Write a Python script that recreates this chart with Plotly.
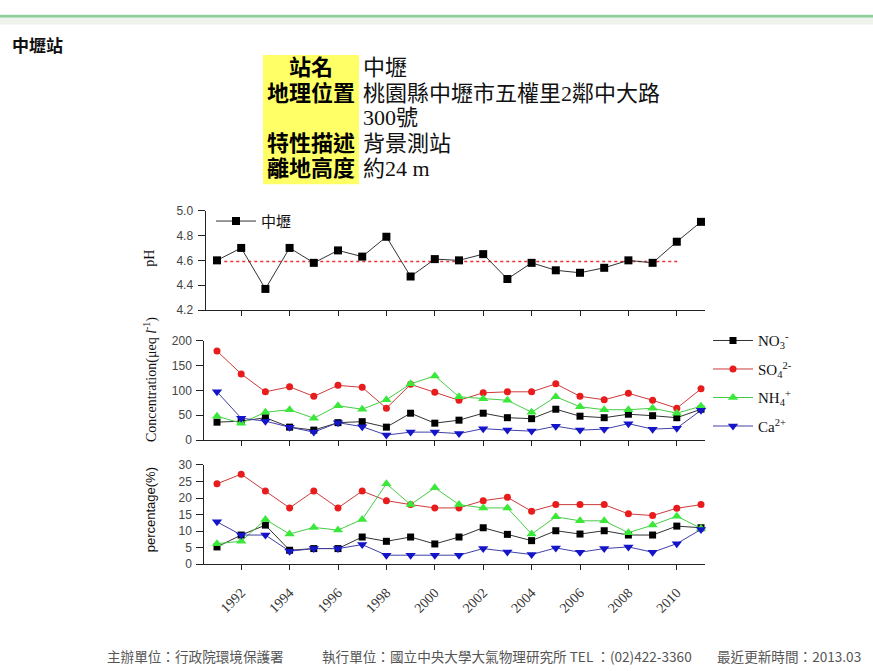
import plotly.graph_objects as go

# ---------------- data ----------------
years = list(range(1991, 2012))
ph = [4.60, 4.70, 4.37, 4.70, 4.58, 4.68, 4.63, 4.79, 4.47, 4.61, 4.60,
      4.65, 4.45, 4.58, 4.52, 4.50, 4.54, 4.60, 4.58, 4.75, 4.91]
ph_mean_years = [1991.3, 2010.1]
ph_mean_vals = [4.59, 4.59]

conc_no3 = [36, 38, 45, 26, 20, 35, 37, 26, 54, 34, 40, 54, 45, 43, 62, 48, 45, 52, 49, 45, 62]
conc_so4 = [179, 133, 97, 107, 88, 110, 106, 64, 112, 96, 80, 95, 97, 97, 113, 88, 81, 94, 80, 64, 103]
conc_nh4 = [48, 34, 56, 61, 44, 69, 62, 81, 113, 129, 87, 83, 80, 56, 87, 67, 61, 61, 64, 54, 68]
conc_ca = [97, 44, 38, 26, 16, 35, 27, 10, 16, 16, 13, 23, 20, 18, 28, 20, 22, 33, 22, 24, 60]

pct_no3 = [5.2, 8.8, 11.8, 4.2, 4.7, 4.7, 8.2, 6.9, 8.2, 6.1, 8.2, 11.0, 9.0, 7.1, 10.1, 9.1, 10.1, 8.8, 8.8, 11.5, 11.0]
pct_so4 = [24.3, 27.2, 22.1, 17.0, 22.1, 17.0, 22.1, 19.2, 18.0, 17.0, 17.0, 19.2, 20.2, 16.0, 18.0, 18.0, 18.0, 15.2, 14.7, 16.9, 18.0]
pct_nh4 = [6.2, 6.9, 13.5, 9.1, 11.1, 10.3, 13.5, 24.3, 18.0, 23.1, 18.0, 17.0, 17.0, 9.1, 14.3, 13.1, 13.1, 9.5, 11.8, 14.5, 10.8]
pct_ca = [12.8, 8.8, 8.8, 3.9, 4.7, 4.7, 5.9, 2.7, 2.7, 2.7, 2.7, 4.7, 3.7, 2.9, 4.9, 3.6, 4.7, 5.2, 3.6, 6.2, 10.5]

tick_years = [1992, 1994, 1996, 1998, 2000, 2002, 2004, 2006, 2008, 2010]
tick_text = [str(y) for y in tick_years]

ion_names = ["NO<sub>3</sub><sup>-</sup>", "SO<sub>4</sub><sup>2-</sup>",
             "NH<sub>4</sub><sup>+</sup>", "Ca<sup>2+</sup>"]

station_title = "中壢站"
info_labels = ["站名", "地理位置", "", "特性描述", "離地高度"]
info_values = ["中壢", "桃園縣中壢市五權里2鄰中大路", "300號", "背景測站", "約24 m"]
footer = ["主辦單位：行政院環境保護署",
          "執行單位：國立中央大學大氣物理研究所 TEL ：(02)422-3360",
          "最近更新時間：2013.03"]

# ---------------- layout helpers ----------------
W, H = 873, 671


def px(x):
    return x / W


def py(y):
    return 1 - y / H


X0_PX, PX_PER_YEAR = 217.0, 24.2


def xrange_for(left, right):
    return [1991 + (left - X0_PX) / PX_PER_YEAR, 1991 + (right - X0_PX) / PX_PER_YEAR]


SERIF = "Liberation Serif, Noto Sans CJK TC"
SANS = "Liberation Sans, Arial"
CJK = "Noto Sans CJK TC"
AX = "#222222"

styles = [
    dict(color="#000000", line="#333333", symbol="square", size=7),
    dict(color="#e81c1c", line="#cc3a3a", symbol="circle", size=7),
    dict(color="#3ae83a", line="#44cc44", symbol="triangle-up", size=9),
    dict(color="#1414c8", line="#4040a8", symbol="triangle-down", size=9),
]

fig = go.Figure()

# pH panel
fig.add_trace(go.Scatter(x=ph_mean_years, y=ph_mean_vals, mode="lines",
                         line=dict(color="#ee3030", width=1.5, dash="dot"),
                         showlegend=False, xaxis="x", yaxis="y", hoverinfo="skip"))
fig.add_trace(go.Scatter(x=years, y=ph, mode="lines+markers", name="中壢",
                         line=dict(color="#333333", width=1),
                         marker=dict(symbol="square", size=8, color="#000000"),
                         cliponaxis=False, legend="legend", xaxis="x", yaxis="y"))

conc = [conc_no3, conc_so4, conc_nh4, conc_ca]
pct = [pct_no3, pct_so4, pct_nh4, pct_ca]
for i, (nm, st) in enumerate(zip(ion_names, styles)):
    fig.add_trace(go.Scatter(x=years, y=conc[i], mode="lines+markers", name=nm,
                             line=dict(color=st["line"], width=1),
                             marker=dict(symbol=st["symbol"], size=st["size"], color=st["color"]),
                             cliponaxis=False, legend="legend2", legendgroup="g%d" % i,
                             xaxis="x2", yaxis="y2"))
for i, (nm, st) in enumerate(zip(ion_names, styles)):
    fig.add_trace(go.Scatter(x=years, y=pct[i], mode="lines+markers", name=nm,
                             line=dict(color=st["line"], width=1),
                             marker=dict(symbol=st["symbol"], size=st["size"], color=st["color"]),
                             cliponaxis=False, showlegend=False, legend="legend2",
                             legendgroup="g%d" % i, xaxis="x3", yaxis="y3"))

common_x = dict(tickmode="array", tickvals=tick_years, ticktext=tick_text,
                ticks="outside", ticklen=5, tickcolor=AX, showline=True, linecolor=AX,
                linewidth=1, showgrid=False, zeroline=False, fixedrange=True)
common_y = dict(ticks="outside", ticklen=7, tickcolor=AX, showline=True, linecolor=AX,
                linewidth=1, showgrid=False, zeroline=False, ticklabelstandoff=2,
                tickfont=dict(family=SANS, size=12, color="#444444"))

AX_R = 705
fig.update_layout(
    width=W, height=H, margin=dict(l=0, r=0, t=0, b=0),
    paper_bgcolor="white", plot_bgcolor="rgba(0,0,0,0)",
    font=dict(family=SANS, size=12, color="#222222"),
    xaxis=dict(domain=[px(205.5), px(AX_R)], range=xrange_for(205.5, AX_R), anchor="y",
               showticklabels=False, **common_x),
    yaxis=dict(domain=[py(309.5), py(208)], range=[4.2, 5.0], tickvals=[4.2, 4.4, 4.6, 4.8, 5.0],
               tickformat=".1f", anchor="x", **common_y),
    xaxis2=dict(domain=[px(204.3), px(AX_R)], range=xrange_for(204.3, AX_R), anchor="y2",
                showticklabels=False, **common_x),
    yaxis2=dict(domain=[py(442.3), py(340.7)], range=[0, 200], dtick=50, anchor="x2", **common_y),
    xaxis3=dict(domain=[px(204.3), px(AX_R)], range=xrange_for(204.3, AX_R), anchor="y3",
                tickangle=-45, ticklabelstandoff=9,
                tickfont=dict(family="Liberation Serif", size=14, color="#333333"), **common_x),
    yaxis3=dict(domain=[py(569), py(467.7)], range=[0, 30], dtick=5, anchor="x3", **common_y),
    legend=dict(x=px(211), y=py(202), xanchor="left", yanchor="top", itemwidth=40,
                bgcolor="rgba(0,0,0,0)", font=dict(family=SERIF, size=15, color="#111111")),
    legend2=dict(x=px(708), y=py(324), xanchor="left", yanchor="top", tracegroupgap=6,
                 itemwidth=40,
                 bgcolor="rgba(0,0,0,0)", font=dict(family=SERIF, size=15, color="#111111")),
    showlegend=True,
)

shapes = [
    dict(type="rect", xref="paper", yref="paper", x0=0, x1=1, y0=py(11), y1=py(8),
         fillcolor="#8fcf9c", line=dict(width=0), layer="below"),
    dict(type="rect", xref="paper", yref="paper", x0=0, x1=1, y0=py(18), y1=py(11),
         fillcolor="#eef3ee", line=dict(width=0), layer="below"),
    dict(type="rect", xref="paper", yref="paper", x0=px(263), x1=px(359), y0=py(181), y1=py(49),
         fillcolor="#ffff66", line=dict(width=0), layer="below"),
]
fig.update_layout(shapes=shapes)

ann = []
ann.append(dict(text="<b>" + station_title + "</b>", x=px(10), y=py(38), xanchor="left",
                yanchor="middle", font=dict(family=CJK, size=17, color="#111111")))
rows_y = [62, 88, 113, 139, 165]
for lab, val, ry in zip(info_labels, info_values, rows_y):
    if lab:
        ann.append(dict(text="<b>" + lab + "</b>", x=px(311), y=py(ry), xanchor="center",
                        yanchor="middle", font=dict(family=SERIF, size=22, color="#000000")))
    ann.append(dict(text=val, x=px(361), y=py(ry), xanchor="left", yanchor="middle",
                    font=dict(family=SERIF, size=22, color="#111111")))

ann.append(dict(text="pH", x=px(150), y=py(257), textangle=-90, xanchor="center", yanchor="middle",
                font=dict(family=SERIF, size=14, color="#111111")))
ann.append(dict(text="Concentration(μeq <i>l</i><sup>-1</sup>)", x=px(150), y=py(381), textangle=-90,
                xanchor="center", yanchor="middle", font=dict(family=SERIF, size=14, color="#111111")))
ann.append(dict(text="percentage(%)", x=px(150), y=py(514), textangle=-90, xanchor="center",
                yanchor="middle", font=dict(family=SANS, size=13, color="#111111")))

for txt, fx in zip(footer, [105, 320, 715]):
    ann.append(dict(text=txt, x=px(fx), y=py(663), xanchor="left", yanchor="middle",
                    font=dict(family=CJK, size=13.6, color="#555555")))

for a in ann:
    a.update(xref="paper", yref="paper", showarrow=False)
fig.update_layout(annotations=ann)

fig.write_html("out.html", config={"displayModeBar": False},
               post_script="document.body.style.margin='0';document.body.style.overflow='hidden';")
